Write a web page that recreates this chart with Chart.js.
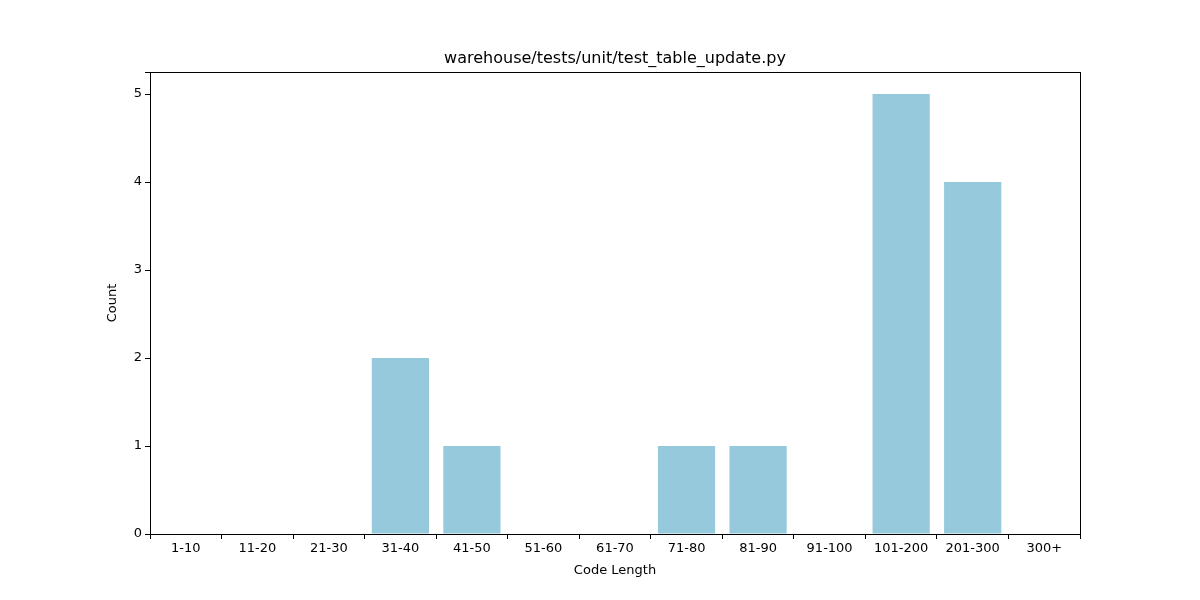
<!DOCTYPE html>
<html>
<head>
<meta charset="utf-8">
<script src="https://cdn.jsdelivr.net/npm/chart.js@4"></script>
<style>body{margin:0;background:#fff}</style>
</head>
<body>
<canvas id="c" width="1200" height="600"></canvas>
<script>
// data
const categories = ['1-10', '11-20', '21-30', '31-40', '41-50', '51-60', '61-70', '71-80', '81-90', '91-100', '101-200', '201-300', '300+'];
const counts = [0, 0, 0, 2, 1, 0, 0, 1, 1, 0, 5, 4, 0];
const chartTitle = 'warehouse/tests/unit/test_table_update.py';

const font = { family: 'DejaVu Sans', size: 13 };

// frame + title drawn like matplotlib
const framePlugin = {
  id: 'frame',
  afterDraw(chart) {
    const { ctx, chartArea: a } = chart;
    ctx.save();
    ctx.strokeStyle = '#000';
    ctx.lineWidth = 1;
    ctx.strokeRect(a.left + 0.5, a.top + 0.5, a.right - a.left, a.bottom - a.top);
    ctx.fillStyle = '#000';
    ctx.font = '16px "DejaVu Sans"';
    ctx.textAlign = 'center';
    ctx.textBaseline = 'bottom';
    ctx.fillText(chartTitle, (a.left + a.right) / 2, a.top - 5);
    ctx.restore();
  }
};

new Chart(document.getElementById('c'), {
  type: 'bar',
  data: {
    labels: categories,
    datasets: [{
      data: counts,
      backgroundColor: '#96c9dc',
      barPercentage: 0.8,
      categoryPercentage: 1.0
    }]
  },
  options: {
    responsive: false,
    animation: false,
    layout: { padding: { left: 105, top: 72, right: 120, bottom: 22 } },
    plugins: { legend: { display: false }, tooltip: { enabled: false } },
    scales: {
      x: {
        grid: { drawOnChartArea: false, tickLength: 5, color: '#000' },
        border: { display: false },
        ticks: { color: '#000', font, maxRotation: 0, padding: 2 },
        title: { display: true, text: 'Code Length', color: '#000', font, padding: 0 },
        afterFit(s) { s.height = 44; }
      },
      y: {
        min: 0,
        max: 5.25,
        grid: { drawOnChartArea: false, tickLength: 5, color: '#000' },
        border: { display: false },
        ticks: { stepSize: 1, color: '#000', font, padding: 3,
          callback: v => Number.isInteger(v) ? v : '' },
        title: { display: true, text: 'Count', color: '#000', font, padding: 0 },
        afterFit(s) { s.width = 45; }
      }
    }
  },
  plugins: [framePlugin]
});
</script>
</body>
</html>
